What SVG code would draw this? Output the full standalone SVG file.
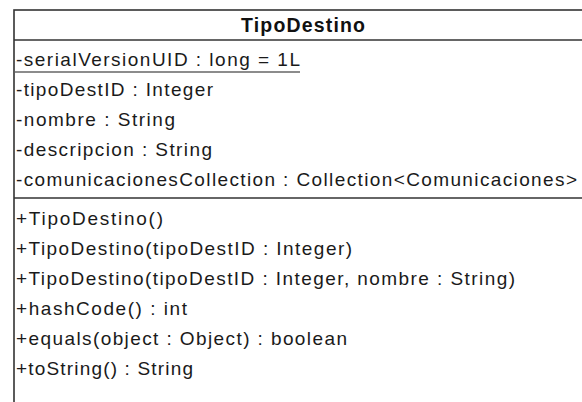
<svg xmlns="http://www.w3.org/2000/svg" width="582" height="402" viewBox="0 0 582 402">
<style>
.box{fill:#ffffff;stroke:#333333;stroke-width:1.6}
.sep{stroke:#333333;stroke-width:1.6}
.t{font-family:"Liberation Sans",Arial,sans-serif;font-size:19px;fill:#1a1a1a}
.h{font-family:"Liberation Sans",Arial,sans-serif;font-size:19.5px;font-weight:bold;fill:#111111}
.ul{stroke:#1a1a1a;stroke-width:1.2}
</style>
<rect width="582" height="402" fill="#ffffff"/>
<g id="TipoDestino">
<rect class="box" x="14" y="10" width="600" height="420"/>
<line class="sep" x1="14" y1="40" x2="600" y2="40"/>
<line class="sep" x1="14" y1="198" x2="600" y2="198"/>
<text class="h" x="241" y="32" textLength="124" lengthAdjust="spacing">TipoDestino</text>
<text class="t" x="16" y="66" textLength="284" lengthAdjust="spacing">-serialVersionUID : long = 1L</text>
<line class="ul" x1="15" y1="72" x2="300" y2="72"/>
<text class="t" x="16" y="96" textLength="197" lengthAdjust="spacing">-tipoDestID : Integer</text>
<text class="t" x="16" y="126" textLength="159" lengthAdjust="spacing">-nombre : String</text>
<text class="t" x="16" y="156" textLength="196" lengthAdjust="spacing">-descripcion : String</text>
<text class="t" x="16" y="186" textLength="561" lengthAdjust="spacing">-comunicacionesCollection : Collection&lt;Comunicaciones&gt;</text>
<text class="t" x="16" y="225" textLength="147" lengthAdjust="spacing">+TipoDestino()</text>
<text class="t" x="16" y="255" textLength="336" lengthAdjust="spacing">+TipoDestino(tipoDestID : Integer)</text>
<text class="t" x="16" y="285" textLength="499" lengthAdjust="spacing">+TipoDestino(tipoDestID : Integer, nombre : String)</text>
<text class="t" x="16" y="315" textLength="171" lengthAdjust="spacing">+hashCode() : int</text>
<text class="t" x="16" y="345" textLength="331" lengthAdjust="spacing">+equals(object : Object) : boolean</text>
<text class="t" x="16" y="375" textLength="177" lengthAdjust="spacing">+toString() : String</text>
</g>
<g id="connectors"></g>
</svg>
